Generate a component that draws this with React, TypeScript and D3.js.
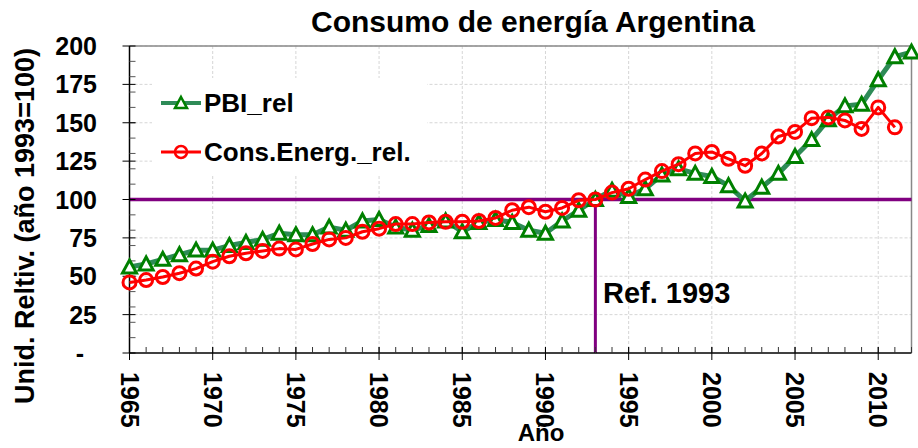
import React from "react";
import * as d3 from "d3";

const years: number[] = d3.range(1965, 2013);
const pbiRel: number[] = [
  56, 58, 61, 64, 67, 67, 70, 72, 74, 78, 77, 77, 82, 80, 86, 87, 82, 80, 83, 86,
  79, 85, 87, 85, 80, 78, 86, 93, 100, 106, 102, 107, 116, 120, 117, 115, 109, 99,
  108, 117, 128, 139, 152, 161, 162, 178, 193, 196,
];
const consRel: number[] = [
  46, 47.5, 49.5, 52, 55, 59.5, 63, 65, 66.5, 68, 67.5, 71, 74, 75, 79, 81, 84, 84,
  85, 85.5, 85.5, 86, 88, 93, 95, 92, 94.5, 99.5, 100, 104.5, 107, 113, 118.5, 123,
  130, 131, 126.5, 122, 130, 141, 144, 153, 153.5, 151.5, 146, 160, 147,
];
const yTicks: number[] = [0, 25, 50, 75, 100, 125, 150, 175, 200];
const yTickLabels: string[] = ["-", "25", "50", "75", "100", "125", "150", "175", "200"];
const xTicks: number[] = [1965, 1970, 1975, 1980, 1985, 1990, 1995, 2000, 2005, 2010];
const refYear = 1993;
const refValue = 100;
const title = "Consumo de energía Argentina";
const yTitle = "Unid. Reltiv. (año 1993=100)";
const xTitle = "Año";
const seriesNames = ["PBI_rel", "Cons.Energ._rel."];

const W = 918;
const H = 448;
const L = 129.5;
const R = 911.5;
const T = 46;
const B = 353;
const FONT = "'Liberation Sans', Arial, sans-serif";

const triPath = (cx: number, cy: number, s = 7) =>
  `M${cx},${cy - s}L${cx + s},${cy + s * 0.85}L${cx - s},${cy + s * 0.85}Z`;

export default function App() {
  const x = d3.scaleLinear().domain([1965, 2012]).range([L, R]);
  const y = d3.scaleLinear().domain([0, 200]).range([B, T]);

  const line = d3
    .line<[number, number]>()
    .x((d) => x(d[0]))
    .y((d) => y(d[1]));

  const pbiPts: [number, number][] = years.map((yr, i) => [yr, pbiRel[i]]);
  const consPts: [number, number][] = consRel.map((v, i) => [years[i], v]);

  const minorY = d3.range(10, 200, 10);
  const minorX = d3.range(1965, 2013, 1);

  return (
    <svg
      width={W}
      height={H}
      style={{ position: "absolute", left: 0, top: 0, background: "#fff" }}
      fontFamily={FONT}
    >
      <rect x={0} y={0} width={W} height={H} fill="#fff" />
      {/* gridlines */}
      {yTicks.slice(1).map((t) => (
        <line
          key={"gy" + t}
          x1={L}
          x2={R}
          y1={y(t)}
          y2={y(t)}
          stroke="#d6d6d6"
          strokeWidth={1}
          strokeDasharray="3,2"
        />
      ))}
      {xTicks.slice(1).map((t) => (
        <line
          key={"gx" + t}
          x1={x(t)}
          x2={x(t)}
          y1={T}
          y2={B}
          stroke="#d6d6d6"
          strokeWidth={1}
          strokeDasharray="3,2"
        />
      ))}
      {/* plot border top/right */}
      <line x1={L} x2={R} y1={T} y2={T} stroke="#888" strokeWidth={1.5} />
      <line x1={R} x2={R} y1={T} y2={B} stroke="#888" strokeWidth={1.5} />

      {/* legend box */}
      <rect x={152} y={78} width={275} height={98} fill="#fff" />

      {/* reference lines */}
      <line x1={L} x2={R} y1={y(refValue)} y2={y(refValue)} stroke="#800080" strokeWidth={3.5} />
      <line x1={x(refYear)} x2={x(refYear)} y1={y(refValue)} y2={B} stroke="#800080" strokeWidth={3} />
      <text x={603} y={293} fontSize={29} fontWeight="bold" dominantBaseline="central">
        Ref. 1993
      </text>

      {/* axes */}
      <line x1={L} x2={L} y1={T} y2={B} stroke="#000" strokeWidth={1.5} />
      <line x1={L} x2={R} y1={B} y2={B} stroke="#000" strokeWidth={1.5} />
      {minorY.map((t) => (
        <line key={"my" + t} x1={L} x2={L + 6} y1={y(t)} y2={y(t)} stroke="#555" strokeWidth={1} />
      ))}
      {yTicks.map((t) => (
        <line key={"ty" + t} x1={L - 7} x2={L + 6} y1={y(t)} y2={y(t)} stroke="#000" strokeWidth={1} />
      ))}
      {minorX.map((t) => (
        <line key={"mx" + t} x1={x(t)} x2={x(t)} y1={B} y2={B - 6} stroke="#333" strokeWidth={1} />
      ))}
      {xTicks.map((t) => (
        <line key={"tx" + t} x1={x(t)} x2={x(t)} y1={B - 6} y2={B + 7} stroke="#000" strokeWidth={1} />
      ))}
      {yTicks.map((t, i) => (
        <text
          key={"ly" + t}
          x={t === 0 ? 84 : 97}
          y={y(t)}
          textAnchor="end"
          dominantBaseline="central"
          fontSize={25}
          fontWeight="bold"
        >
          {yTickLabels[i]}
        </text>
      ))}
      {xTicks.map((t) => (
        <text
          key={"lx" + t}
          transform={`translate(${x(t)},372) rotate(90)`}
          textAnchor="start"
          dominantBaseline="central"
          fontSize={25}
          fontWeight="bold"
        >
          {t}
        </text>
      ))}

      {/* titles */}
      <text x={533} y={21} textAnchor="middle" dominantBaseline="central" fontSize={30} fontWeight="bold">
        {title}
      </text>
      <text
        transform={`translate(25,226) rotate(-90)`}
        textAnchor="middle"
        dominantBaseline="central"
        fontSize={27}
        fontWeight="bold"
      >
        {yTitle}
      </text>
      <text x={541} y={441} textAnchor="middle" fontSize={24} fontWeight="bold">
        {xTitle}
      </text>

      {/* PBI series */}
      <path d={line(pbiPts) || ""} fill="none" stroke="#2E8B57" strokeWidth={5} strokeLinejoin="round" />
      {pbiPts.map((d) => (
        <path key={"p" + d[0]} d={triPath(x(d[0]), y(d[1]))} fill="#fff" stroke="#008000" strokeWidth={3} />
      ))}
      {/* Cons series */}
      <path d={line(consPts) || ""} fill="none" stroke="#FF0000" strokeWidth={3} strokeLinejoin="round" />
      {consPts.map((d) => (
        <circle key={"c" + d[0]} cx={x(d[0])} cy={y(d[1])} r={6.5} fill="none" stroke="#FF0000" strokeWidth={3} />
      ))}

      {/* legend */}
      <line x1={161} x2={201} y1={103} y2={103} stroke="#2E8B57" strokeWidth={4} />
      <path d={triPath(181, 103, 6)} fill="#fff" stroke="#008000" strokeWidth={2.5} />
      <text x={204} y={103} dominantBaseline="central" fontSize={26} fontWeight="bold">
        {seriesNames[0]}
      </text>
      <line x1={161} x2={201} y1={152} y2={152} stroke="#FF0000" strokeWidth={3} />
      <circle cx={181} cy={152} r={6} fill="none" stroke="#FF0000" strokeWidth={2.5} />
      <text x={204} y={152} dominantBaseline="central" fontSize={26} fontWeight="bold">
        {seriesNames[1]}
      </text>
    </svg>
  );
}
